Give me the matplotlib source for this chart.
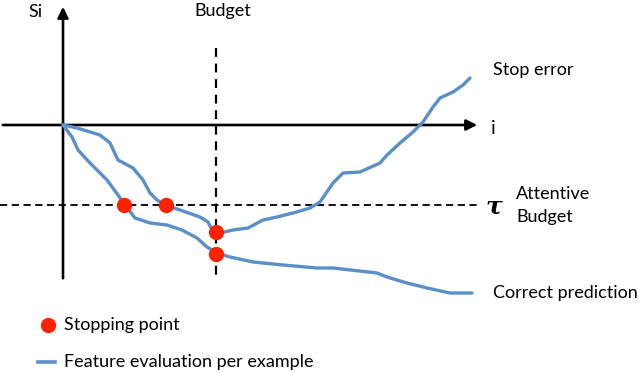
import matplotlib.pyplot as plt

# Positions (in picture pixel units, y grows downwards)
stop_x = [63, 77, 100, 110, 118, 133, 143, 150, 157, 165, 180, 200, 208, 212, 220, 233, 248, 263,
          277, 293, 310, 320, 333, 343, 360, 380, 387, 400, 413, 423, 433, 440, 453, 463, 470]
stop_y = [125, 128, 135, 143, 160, 168, 180, 193, 200, 205, 210, 217, 222, 230, 233, 230, 228, 220,
          217, 213, 208, 202, 183, 173, 172, 163, 155, 143, 132, 122, 107, 98, 92, 85, 78]

correct_x = [63, 72, 78, 90, 107, 118, 125, 135, 150, 167, 182, 197, 207, 217, 230, 253, 283, 317,
             333, 377, 387, 407, 427, 450, 472]
correct_y = [125, 137, 150, 163, 180, 195, 205, 218, 223, 225, 230, 238, 247, 253, 257, 262, 265, 268,
             268, 273, 277, 283, 288, 293, 293]

stop_pts_x = [124, 166, 216, 216]
stop_pts_y = [205, 205, 232, 254]

budget_x = 216
tau_y = 205

blue = '#5b8fc7'
red = '#ff2200'
font = ['Lato', 'DejaVu Sans']
fs = 13

fig = plt.figure(figsize=(6.4, 3.73), dpi=100)
ax = fig.add_axes([0, 0, 1, 1])
ax.set_xlim(0, 640)
ax.set_ylim(373, 0)
ax.axis('off')

# axes with arrows
ax.annotate('', xy=(63, 4), xytext=(63, 281),
            arrowprops=dict(arrowstyle='-|>', lw=1.9, color='black', mutation_scale=16))
ax.annotate('', xy=(480, 125), xytext=(0, 125),
            arrowprops=dict(arrowstyle='-|>', lw=1.9, color='black', mutation_scale=16))

# budget and threshold lines
ax.plot([budget_x, budget_x], [48, 281], color='black', lw=1.6, ls=(0, (4, 3)))
ax.plot([0, 478], [tau_y, tau_y], color='black', lw=1.3, ls=(0, (4, 2.5)))

# curves
ax.plot(stop_x, stop_y, color=blue, lw=2.4, solid_capstyle='round', zorder=3)
ax.plot(correct_x, correct_y, color=blue, lw=2.4, solid_capstyle='round', zorder=3)
ax.plot(stop_pts_x, stop_pts_y, 'o', color=red, ms=10, zorder=4)

# labels
ax.text(28, 12, 'Si', fontsize=fs, family=font, va='center')
ax.text(194, 11, 'Budget', fontsize=fs, family=font, va='center')
ax.text(491, 128, 'i', fontsize=fs + 1, family=font, va='center')
ax.text(493, 70, 'Stop error', fontsize=fs, family=font, va='center')
ax.text(486, 206, 'τ', fontsize=18, family='DejaVu Serif', style='italic', weight='bold', va='center')
ax.text(516, 194, 'Attentive', fontsize=fs, family=font, va='center')
ax.text(516, 217, 'Budget', fontsize=fs, family=font, va='center')
ax.text(493, 293, 'Correct prediction', fontsize=fs, family=font, va='center')

# legend
ax.plot([48], [325], 'o', color=red, ms=10)
ax.text(64, 325, 'Stopping point', fontsize=fs, family=font, va='center')
ax.plot([38, 55], [362, 362], color=blue, lw=2.6)
ax.text(64, 362, 'Feature evaluation per example', fontsize=fs, family=font, va='center')

fig.savefig('out.png', dpi=100)
